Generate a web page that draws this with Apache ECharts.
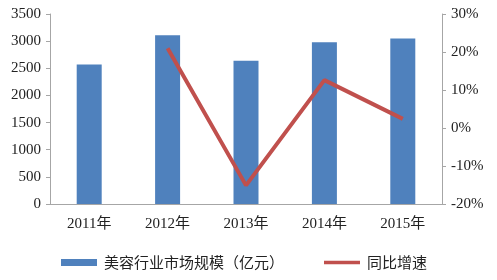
<!DOCTYPE html>
<html><head><meta charset="utf-8">
<script src="https://cdn.jsdelivr.net/npm/echarts@6/dist/echarts.min.js"></script>
<style>html,body{margin:0;padding:0;background:#fff}#c{width:497px;height:280px}</style>
</head><body><div id="c"></div>
<script>
const categories = ['2011年','2012年','2013年','2014年','2015年'];
const marketSize = [2570, 3110, 2640, 2980, 3050];
const growth = [null, 21.0, -15.1, 12.6, 2.4];
const leftTicks = [0, 500, 3500];
const rightTicks = [-20, 30];

const chart = echarts.init(document.getElementById('c'));
const serif = '"Liberation Serif","DejaVu Serif",serif';
const axisGray = '#a6a6a6';
chart.setOption({
  animation: false,
  grid: {left: 50, right: 55, top: 14, bottom: 76},
  legend: {
    bottom: 5, left: 56, itemGap: 40,
    itemWidth: 36, itemHeight: 7,
    textStyle: {fontFamily: '"Noto Sans CJK SC", sans-serif', fontSize: 15, color: '#222', padding: [0, 0, 0, 2]},
    data: [
      {name: '美容行业市场规模（亿元）', icon: 'rect'},
      {name: '同比增速', icon: 'path://M0,1.5L40,1.5L40,5.5L0,5.5Z M0,0L0.01,0L0.01,0.01Z M0,7L0.01,7L0.01,6.99Z'}
    ]
  },
  xAxis: {
    type: 'category', data: categories,
    axisLine: {lineStyle: {color: axisGray}},
    axisTick: {show: false},
    axisLabel: {fontFamily: serif + ',"Noto Sans CJK SC"', fontSize: 15, color: '#222', margin: 13}
  },
  yAxis: [
    {type: 'value', min: leftTicks[0], max: leftTicks[2], interval: leftTicks[1],
     axisLine: {show: true, lineStyle: {color: axisGray}},
     axisTick: {show: true, length: 4, lineStyle: {color: axisGray}},
     splitLine: {show: false},
     axisLabel: {fontFamily: serif, fontSize: 15, color: '#222', margin: 9, formatter: v => String(v)}},
    {type: 'value', min: rightTicks[0], max: rightTicks[1], interval: 10,
     axisLine: {show: true, lineStyle: {color: axisGray}},
     axisTick: {show: true, length: 4, lineStyle: {color: axisGray}},
     splitLine: {show: false},
     axisLabel: {fontFamily: serif, fontSize: 15, color: '#222', margin: 9, formatter: v => v + '%'}}
  ],
  series: [
    {name: '美容行业市场规模（亿元）', type: 'bar', data: marketSize, barWidth: 25,
     itemStyle: {color: '#4F81BD'}},
    {name: '同比增速', type: 'line', yAxisIndex: 1, data: growth, symbol: 'none',
     lineStyle: {color: '#C0504D', width: 4}, itemStyle: {color: '#C0504D'}}
  ]
});
</script></body></html>
